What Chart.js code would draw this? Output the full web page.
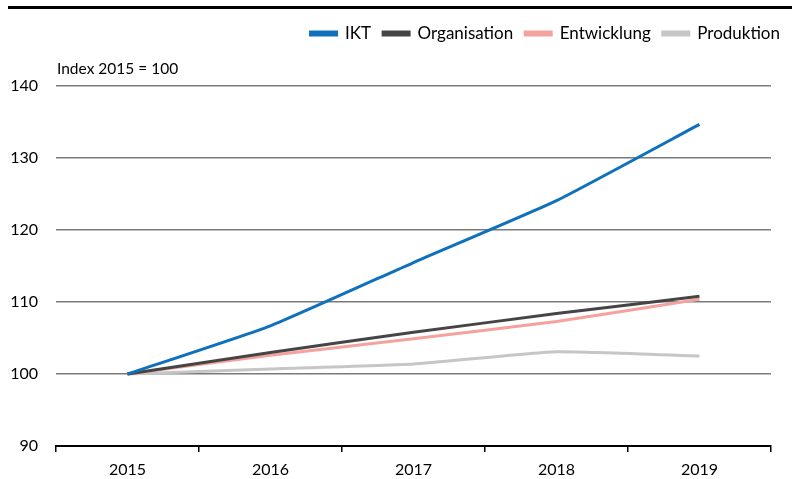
<!DOCTYPE html>
<html>
<head>
<meta charset="utf-8">
<script src="https://cdn.jsdelivr.net/npm/chart.js@4/dist/chart.umd.min.js"></script>
<style>
    body { margin: 0; background: #fff; }
    .wrap { position: relative; width: 792px; height: 479px; }
    .top-rule { position: absolute; top: 6px; left: 8px; right: 0; height: 3px; background: #000; }
    canvas { position: absolute; left: 0; top: 0; }
</style>
</head>
<body>
<div class="wrap">
    <canvas id="chart" width="792" height="479"></canvas>
    <div class="top-rule"></div>
</div>
<script>
// --- DATA ---
const years = ['2015', '2016', '2017', '2018', '2019'];
const ikt = [100, 106.7, 115.5, 124.1, 134.7];
const organisation = [100, 103.0, 105.8, 108.4, 110.8];
const entwicklung = [100, 102.6, 104.9, 107.3, 110.4];
const produktion = [100, 100.7, 101.4, 103.1, 102.5];
const yTicks = [90, 100, 110, 120, 130, 140];
const unitLabel = 'Index 2015 = 100';

const FONT = 'Lato, "Noto Sans", sans-serif';

// small plugin for the "Index 2015 = 100" note above the plot
const unitNote = {
    id: 'unitNote',
    afterDraw(chart) {
        const { ctx, chartArea } = chart;
        ctx.save();
        ctx.font = '15.5px ' + FONT;
        ctx.fillStyle = '#000';
        ctx.textBaseline = 'middle';
        ctx.textAlign = 'left';
        ctx.fillText(unitLabel, chartArea.left + 1, chartArea.top - 17);
        ctx.restore();
    }
};

function series(label, data, color) {
    return {
        label: label,
        data: data,
        borderColor: color,
        backgroundColor: color,
        borderWidth: 3,
        pointRadius: 0,
        tension: 0.15,
        fill: false
    };
}

const ctx = document.getElementById('chart').getContext('2d');
new Chart(ctx, {
    type: 'line',
    data: {
        labels: years,
        datasets: [
            series('IKT', ikt, '#0f71bb'),
            series('Organisation', organisation, '#454545'),
            series('Entwicklung', entwicklung, '#f4a29e'),
            series('Produktion', produktion, '#c6c6c6')
        ]
    },
    options: {
        responsive: false,
        animation: false,
        layout: { padding: { left: 0, right: 0, top: 13, bottom: 0 } },
        plugins: {
            legend: {
                position: 'top',
                align: 'end',
                labels: {
                    boxWidth: 26,
                    boxHeight: 3,
                    padding: 12,
                    color: '#000',
                    font: { family: FONT, size: 17 }
                }
            },
            title: {
                display: true,
                text: ' ',
                weight: 500,
                padding: { top: 8, bottom: 7 },
                font: { family: FONT, size: 16 }
            },
            tooltip: { enabled: false }
        },
        scales: {
            x: {
                offset: true,
                afterFit: (scale) => { scale.height = 33; },
                grid: {
                    display: true,
                    offset: true,
                    drawOnChartArea: false,
                    drawTicks: true,
                    tickLength: 6,
                    color: '#000',
                    lineWidth: 1.5
                },
                border: { display: true, color: '#000', width: 2 },
                ticks: {
                    color: '#000',
                    padding: 8,
                    font: { family: FONT, size: 16 }
                }
            },
            y: {
                min: 90,
                max: 140,
                afterBuildTicks: (scale) => {
                    scale.ticks = yTicks.map(v => ({ value: v }));
                },
                afterFit: (scale) => { scale.width = 56; },
                grid: {
                    color: '#7a7a7a',
                    lineWidth: 1.5,
                    drawTicks: false
                },
                border: { display: false },
                ticks: {
                    color: '#000',
                    padding: 18,
                    font: { family: FONT, size: 16 }
                }
            },
            pad: {
                position: 'right',
                display: true,
                afterFit: (scale) => { scale.width = 21; },
                grid: { display: false },
                border: { display: false },
                ticks: { display: false }
            }
        }
    },
    plugins: [unitNote]
});
</script>
</body>
</html>
